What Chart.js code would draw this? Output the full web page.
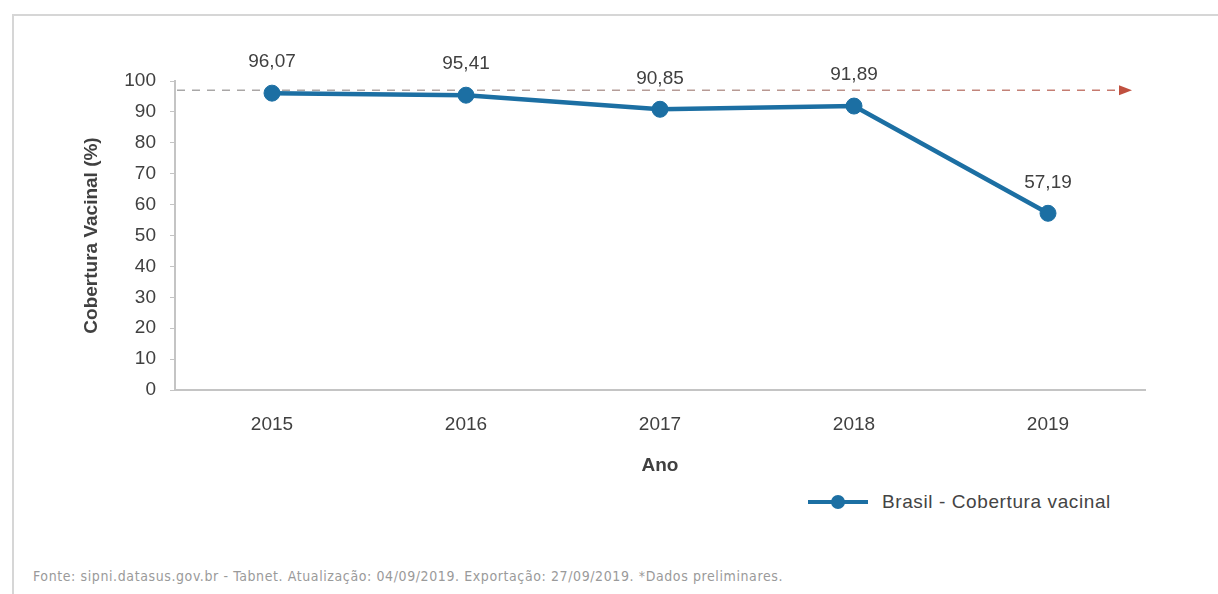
<!DOCTYPE html>
<html lang="pt-BR">
<head>
<meta charset="utf-8">
<title>Cobertura Vacinal - Brasil</title>
<script src="https://cdn.jsdelivr.net/npm/chart.js@4/dist/chart.umd.min.js"></script>
<style>
    html, body { margin: 0; padding: 0; background: #fff; overflow: hidden; }
    body { width: 1218px; height: 594px; position: relative; font-family: 'Liberation Sans', Arial, sans-serif; }
    .moldura {
        position: absolute; left: 12px; top: 14px; width: 1240px; height: 620px;
        border: 2px solid #d6d6d6; box-sizing: border-box;
    }
    #graficoCobertura { position: absolute; left: 0; top: 0; }
    .legenda {
        position: absolute; left: 808px; top: 490px; height: 24px;
        display: flex; align-items: center; color: #444; font-size: 19px; letter-spacing: 0.6px;
    }
    .legenda .amostra { position: relative; width: 60px; height: 4px; background: #1c6fa3; margin-right: 14px; }
    .legenda .amostra::after {
        content: ''; position: absolute; left: 23px; top: -5px; width: 14px; height: 14px;
        border-radius: 50%; background: #1c6fa3;
    }
    .fonte {
        position: absolute; left: 33px; top: 568px; color: #9a9a9a; font-size: 14px; letter-spacing: 0.6px;
        font-family: 'Liberation Sans Narrow', 'DejaVu Sans Condensed', sans-serif; white-space: nowrap;
    }
</style>
</head>
<body>
<div class="moldura"></div>
<canvas id="graficoCobertura" width="1218" height="480"></canvas>
<div class="legenda"><span class="amostra"></span><span>Brasil - Cobertura vacinal</span></div>
<div class="fonte">Fonte: sipni.datasus.gov.br - Tabnet. Atualização: 04/09/2019. Exportação: 27/09/2019. *Dados preliminares.</div>

<script>
(() => {
    const el = document.getElementById('graficoCobertura');
    if (!el || !window.Chart) return;

    // dados
    const anos = ['2015', '2016', '2017', '2018', '2019'];
    const cobertura = [96.07, 95.41, 90.85, 91.89, 57.19];
    const eixoY = { min: 0, max: 100, passo: 10 };
    const linhaMeta = 97;

    const azul = '#1c6fa3';
    const corTexto = '#404040';
    const corEixo = '#c4c4c4';
    const familia = '"Liberation Sans", Arial, sans-serif';

    const fmt = (v) => v.toFixed(2).replace('.', ',');

    // rótulo com o valor acima de cada ponto
    const rotulos = {
        id: 'rotulos',
        afterDatasetsDraw(chart) {
            const { ctx } = chart;
            const meta = chart.getDatasetMeta(0);
            ctx.save();
            ctx.font = '19px ' + familia;
            ctx.fillStyle = corTexto;
            ctx.textAlign = 'center';
            ctx.textBaseline = 'middle';
            meta.data.forEach((pt, i) => {
                ctx.fillText(fmt(cobertura[i]), pt.x, pt.y - 31);
            });
            ctx.restore();
        }
    };

    // linha tracejada de referência com seta no fim
    const referencia = {
        id: 'referencia',
        beforeDatasetsDraw(chart) {
            const { ctx, chartArea } = chart;
            const y = chart.scales.y.getPixelForValue(linhaMeta);
            const x0 = chartArea.left + 2;
            const x1 = chartArea.right - 28;
            const grad = ctx.createLinearGradient(x0, 0, x1, 0);
            grad.addColorStop(0, '#a8a8a8');
            grad.addColorStop(0.6, '#b89a94');
            grad.addColorStop(1, '#c7786c');
            ctx.save();
            ctx.strokeStyle = grad;
            ctx.lineWidth = 1.6;
            ctx.setLineDash([8, 7]);
            ctx.beginPath();
            ctx.moveTo(x0, y);
            ctx.lineTo(x1, y);
            ctx.stroke();
            ctx.setLineDash([]);
            ctx.fillStyle = '#c0503f';
            ctx.beginPath();
            ctx.moveTo(x1 + 2, y - 5);
            ctx.lineTo(x1 + 15, y);
            ctx.lineTo(x1 + 2, y + 5);
            ctx.closePath();
            ctx.fill();
            ctx.restore();
        }
    };

    new Chart(el.getContext('2d'), {
        type: 'line',
        data: {
            labels: anos,
            datasets: [{
                label: 'Brasil - Cobertura vacinal',
                data: cobertura,
                borderColor: azul,
                borderWidth: 4.5,
                tension: 0,
                pointRadius: 8,
                pointHoverRadius: 8,
                pointBackgroundColor: azul,
                pointBorderColor: azul,
                pointBorderWidth: 1,
                fill: false
            }]
        },
        options: {
            responsive: false,
            animation: false,
            layout: { padding: { left: 75, right: 73, top: 81, bottom: 0 } },
            plugins: {
                legend: { display: false },
                tooltip: { enabled: false }
            },
            scales: {
                x: {
                    offset: true,
                    afterFit: (s) => { s.height = 90; },
                    border: { color: corEixo, width: 2 },
                    grid: { display: false, drawTicks: false },
                    ticks: {
                        color: corTexto,
                        padding: 23,
                        font: { family: familia, size: 19 }
                    },
                    title: {
                        display: true,
                        text: 'Ano',
                        color: corTexto,
                        padding: { top: 0, bottom: 3 },
                        font: { family: familia, size: 19, weight: 'bold' }
                    }
                },
                y: {
                    min: eixoY.min,
                    max: eixoY.max,
                    afterFit: (s) => { s.width = 100; },
                    border: { color: corEixo, width: 2 },
                    grid: { drawOnChartArea: false, tickLength: 5, color: corEixo },
                    ticks: {
                        stepSize: eixoY.passo,
                        color: corTexto,
                        padding: 14,
                        font: { family: familia, size: 19 }
                    },
                    title: {
                        display: true,
                        text: 'Cobertura Vacinal (%)',
                        color: corTexto,
                        padding: { top: 5, bottom: 0 },
                        font: { family: familia, size: 19, weight: 'bold' }
                    }
                }
            }
        },
        plugins: [referencia, rotulos]
    });
})();
</script>
</body>
</html>
